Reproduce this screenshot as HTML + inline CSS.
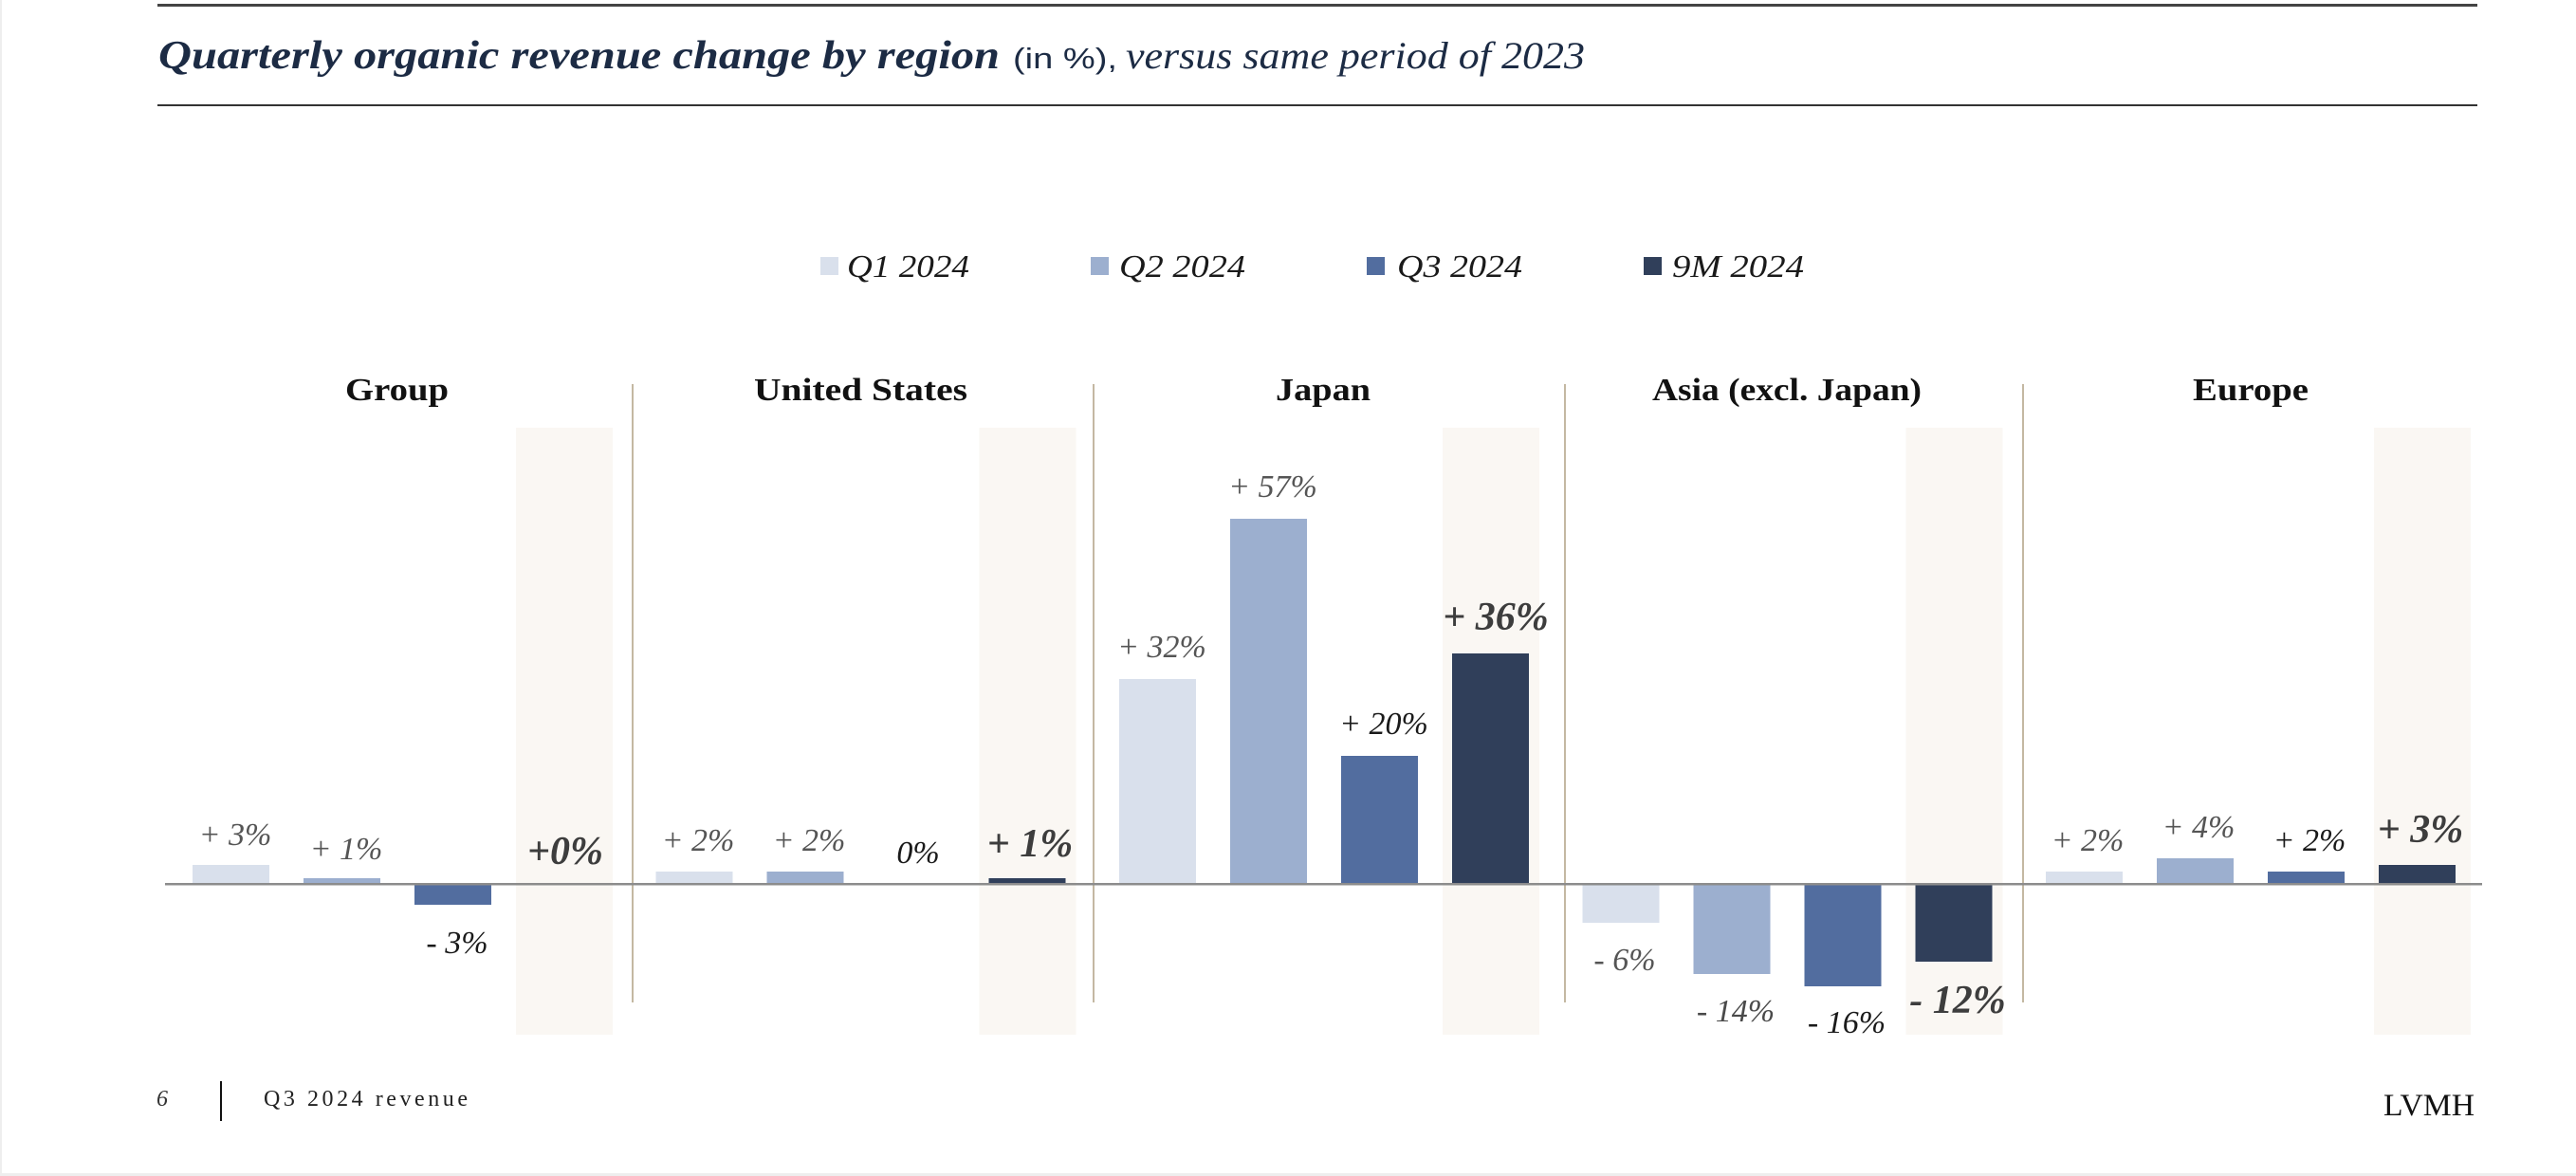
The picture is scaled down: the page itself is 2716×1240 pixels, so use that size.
<!DOCTYPE html>
<html>
<head>
<meta charset="utf-8">
<style>
  html,body{margin:0;padding:0;background:#fff;}
  body{width:2716px;height:1240px;overflow:hidden;}
  svg{display:block;}
</style>
</head>
<body>
<svg width="2716" height="1240" viewBox="0 0 2716 1240" xmlns="http://www.w3.org/2000/svg">
  <rect x="0" y="0" width="2716" height="1240" fill="#ffffff"/>
  <!-- page edges -->
  <rect x="0" y="0" width="2" height="1240" fill="#eeeeee"/>
  <rect x="0" y="1237" width="2716" height="3" fill="#eeeeee"/>

  <!-- header lines -->
  <rect x="166" y="4" width="2446" height="3" fill="#444444"/>
  <rect x="166" y="110" width="2446" height="2" fill="#333333"/>

  <!-- title -->
  <text x="167" y="72" font-family="Liberation Serif, serif" font-style="italic" font-weight="bold" font-size="42" fill="#1c2b44" textLength="887" lengthAdjust="spacingAndGlyphs">Quarterly organic revenue change by region</text>
  <text x="1068" y="72" font-family="Liberation Sans, sans-serif" font-size="31" fill="#1c2b44" textLength="110" lengthAdjust="spacingAndGlyphs">(in %),</text>
  <text x="1187" y="72" font-family="Liberation Serif, serif" font-style="italic" font-size="40" fill="#1c2b44" textLength="484" lengthAdjust="spacingAndGlyphs">versus same period of 2023</text>

  <!-- legend -->
  <rect x="865" y="271" width="19" height="19" fill="#d9e0ec"/>
  <text x="893" y="292" font-family="Liberation Serif, serif" font-style="italic" font-size="34" fill="#1a1a1a" textLength="129" lengthAdjust="spacingAndGlyphs">Q1 2024</text>
  <rect x="1150" y="271" width="19" height="19" fill="#9cafcf"/>
  <text x="1180" y="292" font-family="Liberation Serif, serif" font-style="italic" font-size="34" fill="#1a1a1a" textLength="133" lengthAdjust="spacingAndGlyphs">Q2 2024</text>
  <rect x="1441" y="271" width="19" height="19" fill="#526d9f"/>
  <text x="1473" y="292" font-family="Liberation Serif, serif" font-style="italic" font-size="34" fill="#1a1a1a" textLength="132" lengthAdjust="spacingAndGlyphs">Q3 2024</text>
  <rect x="1733" y="271" width="19" height="19" fill="#303f5a"/>
  <text x="1763" y="292" font-family="Liberation Serif, serif" font-style="italic" font-size="34" fill="#1a1a1a" textLength="139" lengthAdjust="spacingAndGlyphs">9M 2024</text>

  <!-- region titles -->
  <g font-family="Liberation Serif, serif" font-weight="bold" font-size="34" fill="#111111">
    <text x="364" y="422" textLength="109" lengthAdjust="spacingAndGlyphs">Group</text>
    <text x="795" y="422" textLength="225" lengthAdjust="spacingAndGlyphs">United States</text>
    <text x="1345" y="422" textLength="100" lengthAdjust="spacingAndGlyphs">Japan</text>
    <text x="1742" y="422" textLength="284" lengthAdjust="spacingAndGlyphs">Asia (excl. Japan)</text>
    <text x="2312" y="422" textLength="122" lengthAdjust="spacingAndGlyphs">Europe</text>
  </g>

  <!-- highlight bands (9M) -->
  <g fill="#faf7f3">
    <rect x="544" y="451" width="102" height="640"/>
    <rect x="1032.5" y="451" width="102" height="640"/>
    <rect x="1521" y="451" width="102" height="640"/>
    <rect x="2009.5" y="451" width="102" height="640"/>
    <rect x="2503" y="451" width="102" height="640"/>
  </g>

  <!-- dividers -->
  <g fill="#c4b8a2">
    <rect x="666" y="405" width="2" height="652"/>
    <rect x="1152" y="405" width="2" height="652"/>
    <rect x="1649" y="405" width="2" height="652"/>
    <rect x="2132" y="405" width="2" height="652"/>
  </g>

  <!-- bars -->
  <!-- Group -->
  <rect x="203" y="912" width="81" height="20" fill="#d9e0ec"/>
  <rect x="320" y="926" width="81" height="6" fill="#9cafcf"/>
  <rect x="437" y="932" width="81" height="22" fill="#526d9f"/>
  <!-- United States -->
  <rect x="691.5" y="919" width="81" height="13" fill="#d9e0ec"/>
  <rect x="808.5" y="919" width="81" height="13" fill="#9cafcf"/>
  <rect x="1042.5" y="926" width="81" height="6" fill="#303f5a"/>
  <!-- Japan -->
  <rect x="1180" y="716" width="81" height="216" fill="#d9e0ec"/>
  <rect x="1297" y="547" width="81" height="385" fill="#9cafcf"/>
  <rect x="1414" y="797" width="81" height="135" fill="#526d9f"/>
  <rect x="1531" y="689" width="81" height="243" fill="#303f5a"/>
  <!-- Asia -->
  <rect x="1668.5" y="932" width="81" height="41" fill="#d9e0ec"/>
  <rect x="1785.5" y="932" width="81" height="95" fill="#9cafcf"/>
  <rect x="1902.5" y="932" width="81" height="108" fill="#526d9f"/>
  <rect x="2019.5" y="932" width="81" height="82" fill="#303f5a"/>
  <!-- Europe -->
  <rect x="2157" y="919" width="81" height="13" fill="#d9e0ec"/>
  <rect x="2274" y="905" width="81" height="27" fill="#9cafcf"/>
  <rect x="2391" y="919" width="81" height="13" fill="#526d9f"/>
  <rect x="2508" y="912" width="81" height="20" fill="#303f5a"/>

  <!-- zero axis -->
  <rect x="174" y="931" width="2443" height="2.5" fill="#8c8c8c"/>

  <!-- value labels -->
  <g font-family="Liberation Serif, serif" font-style="italic" font-size="34" text-anchor="middle">
    <!-- Group -->
    <text x="248" y="891" fill="#555555">+ 3%</text>
    <text x="365" y="906" fill="#555555">+ 1%</text>
    <text x="482" y="1005" fill="#1a1a1a">- 3%</text>
    <!-- US -->
    <text x="736" y="897" fill="#555555">+ 2%</text>
    <text x="853" y="897" fill="#555555">+ 2%</text>
    <text x="968" y="910" fill="#1a1a1a">0%</text>
    <!-- Japan -->
    <text x="1225" y="693" fill="#555555">+ 32%</text>
    <text x="1342" y="524" fill="#555555">+ 57%</text>
    <text x="1459" y="774" fill="#1a1a1a">+ 20%</text>
    <!-- Asia -->
    <text x="1713" y="1023" fill="#555555">- 6%</text>
    <text x="1830" y="1077" fill="#4a4a4a">- 14%</text>
    <text x="1947" y="1089" fill="#1a1a1a">- 16%</text>
    <!-- Europe -->
    <text x="2201" y="897" fill="#555555">+ 2%</text>
    <text x="2318" y="883" fill="#555555">+ 4%</text>
    <text x="2435" y="897" fill="#1a1a1a">+ 2%</text>
  </g>
  <g font-family="Liberation Serif, serif" font-style="italic" font-weight="bold" font-size="42" text-anchor="middle" fill="#3d3d3d">
    <text x="596" y="911">+0%</text>
    <text x="1086" y="903">+ 1%</text>
    <text x="1577" y="664">+ 36%</text>
    <text x="2064" y="1068">- 12%</text>
    <text x="2552" y="888">+ 3%</text>
  </g>

  <!-- footer -->
  <text x="165" y="1166" font-family="Liberation Serif, serif" font-style="italic" font-size="24" fill="#333333">6</text>
  <rect x="232" y="1140" width="2" height="42" fill="#111111"/>
  <text x="278" y="1166" font-family="Liberation Serif, serif" font-size="24" fill="#222222" textLength="215" lengthAdjust="spacing">Q3 2024 revenue</text>
  <text x="2513" y="1176" font-family="Liberation Serif, serif" font-size="33" fill="#111111" textLength="96" lengthAdjust="spacingAndGlyphs">LVMH</text>
</svg>
</body>
</html>
